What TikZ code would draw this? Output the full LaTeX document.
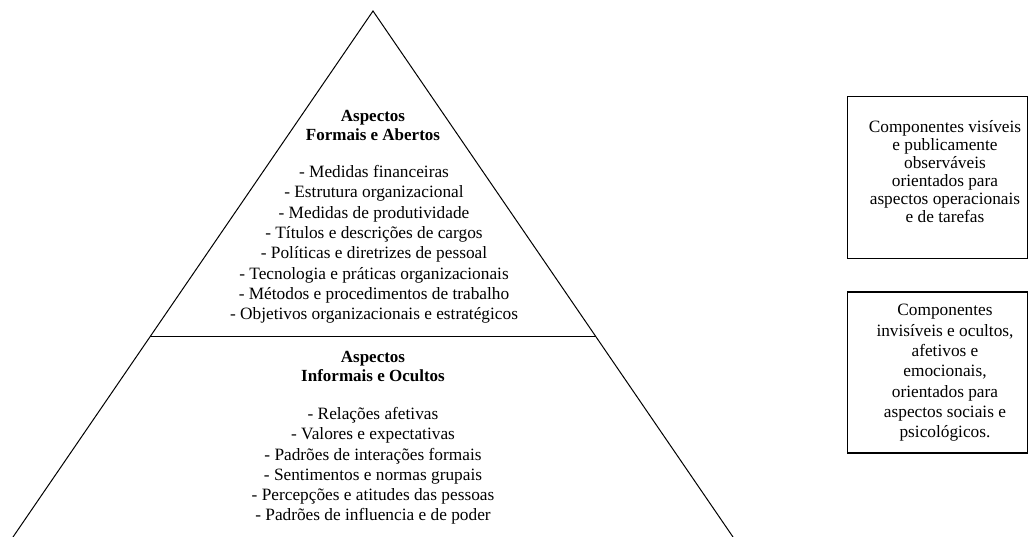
\documentclass[tikz,border=0pt]{standalone}
\usepackage{fontspec}
\setmainfont{Liberation Serif}
\begin{document}
\begin{tikzpicture}[x=1pt,y=-1pt,
  edge/.style={line width=1pt,black},
  boxstyle/.style={draw,line width=1.2pt,minimum width=180pt,inner sep=0pt},
  txt/.style={align=center,font=\fontsize{17.3}{20.3}\selectfont,inner sep=0pt},
  ttl/.style={align=center,font=\fontsize{17}{19}\selectfont\bfseries,inner sep=0pt}]
\useasboundingbox (0,0) rectangle (1029,537);
\coordinate (apex) at (373,11);
\coordinate (bl) at (13,537);
\coordinate (br) at (733,537);
\coordinate (dl) at (150,336.7);
\coordinate (dr) at (596,336.7);
\draw[edge] (bl) -- (apex) -- (br);
\draw[edge] (dl) -- (dr);
\node[ttl] (t1) at (373,125.5) {Aspectos\\Formais e Abertos};
\node[txt] (l1) at (374,244.4) {- Medidas financeiras\\- Estrutura organizacional\\- Medidas de produtividade\\- Títulos e descrições de cargos\\- Políticas e diretrizes de pessoal\\- Tecnologia e práticas organizacionais\\- Métodos e procedimentos de trabalho\\- Objetivos organizacionais e estratégicos};
\node[ttl] (t2) at (373,366.5) {Aspectos\\Informais e Ocultos};
\node[txt] (l2) at (373,466) {- Relações afetivas\\- Valores e expectativas\\- Padrões de interações formais\\- Sentimentos e normas grupais\\- Percepções e atitudes das pessoas\\- Padrões de influencia e de poder};
\node[boxstyle,minimum height=162pt] (b1) at (937.5,177.5) {};
\node[txt,font=\fontsize{17.3}{18}\selectfont] (b1t) at (945,172) {Componentes visíveis\\e publicamente\\observáveis\\orientados para\\aspectos operacionais\\e de tarefas};
\node[boxstyle,minimum height=161pt] (b2) at (937.5,372.5) {};
\node[txt] (b2t) at (945,373) {Componentes\\invisíveis e ocultos,\\afetivos e\\emocionais,\\orientados para\\aspectos sociais e\\psicológicos.};
\end{tikzpicture}
\end{document}
